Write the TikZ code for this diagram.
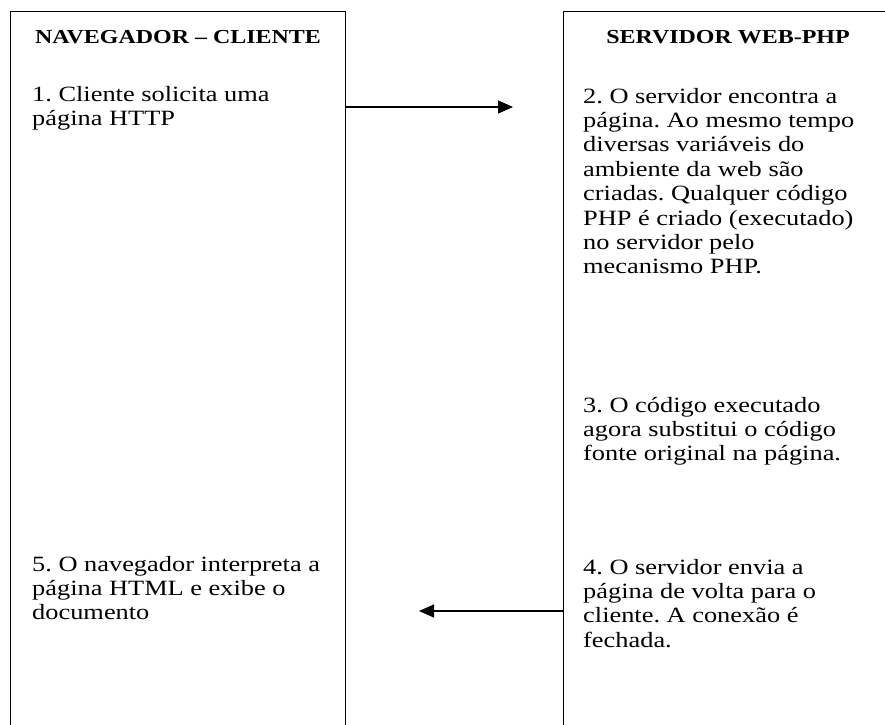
\documentclass[tikz,border=0pt]{standalone}
\usepackage{fontspec}
\setmainfont{Liberation Serif}[FakeStretch=1.21]
\usetikzlibrary{arrows.meta}
\frenchspacing
\tikzset{
  colbox/.style={draw=black, line width=1.4pt, inner sep=0pt, anchor=north west},
  headtxt/.style={font=\fontsize{19.8}{22}\selectfont\bfseries, anchor=base, inner sep=0pt},
  bodytxt/.style={font=\fontsize{21.8}{24.4}\selectfont\frenchspacing, align=left, anchor=base west, inner sep=0pt},
  msgarrow/.style={line width=1.1pt, -{Triangle[length=15pt,width=13pt]}}
}
\begin{document}
\begin{tikzpicture}[x=1pt,y=1pt]
\useasboundingbox (0,0) rectangle (885,-724);
\clip (0,0) rectangle (885,-724);
\node[colbox, minimum width=335pt, minimum height=760pt] (client) at (10,-11) {};
\node[colbox, line width=1.1pt, minimum width=330pt, minimum height=760pt] (server) at (563,-11) {};
\node[headtxt] (h1) at (178,-43) {NAVEGADOR – CLIENTE};
\node[headtxt] (h2) at (728,-43) {SERVIDOR WEB-PHP};
% base anchor = baseline of the last line
\node[bodytxt] (t1) at (32,-125.4) {1. Cliente solicita uma\\página HTTP};
\node[bodytxt] (t2) at (583,-273.8) {2. O servidor encontra a\\página. Ao mesmo tempo\\diversas variáveis do\\ambiente da web são\\criadas. Qualquer código\\PHP é criado (executado)\\no servidor pelo\\mecanismo PHP.};
\node[bodytxt] (t3) at (583,-460.8) {3. O código executado\\agora substitui o código\\fonte original na página.};
\node[bodytxt] (t4) at (583,-647.2) {4. O servidor envia a\\página de volta para o\\cliente. A conexão é\\fechada.};
\node[bodytxt] (t5) at (32,-619.8) {5. O navegador interpreta a\\página HTML e exibe o\\documento};
\coordinate (a1) at (513,-107);
\coordinate (a2) at (419,-611);
\draw[msgarrow] (client.east |- a1) -- (a1);
\draw[msgarrow] (server.west |- a2) -- (a2);
\end{tikzpicture}
\end{document}
